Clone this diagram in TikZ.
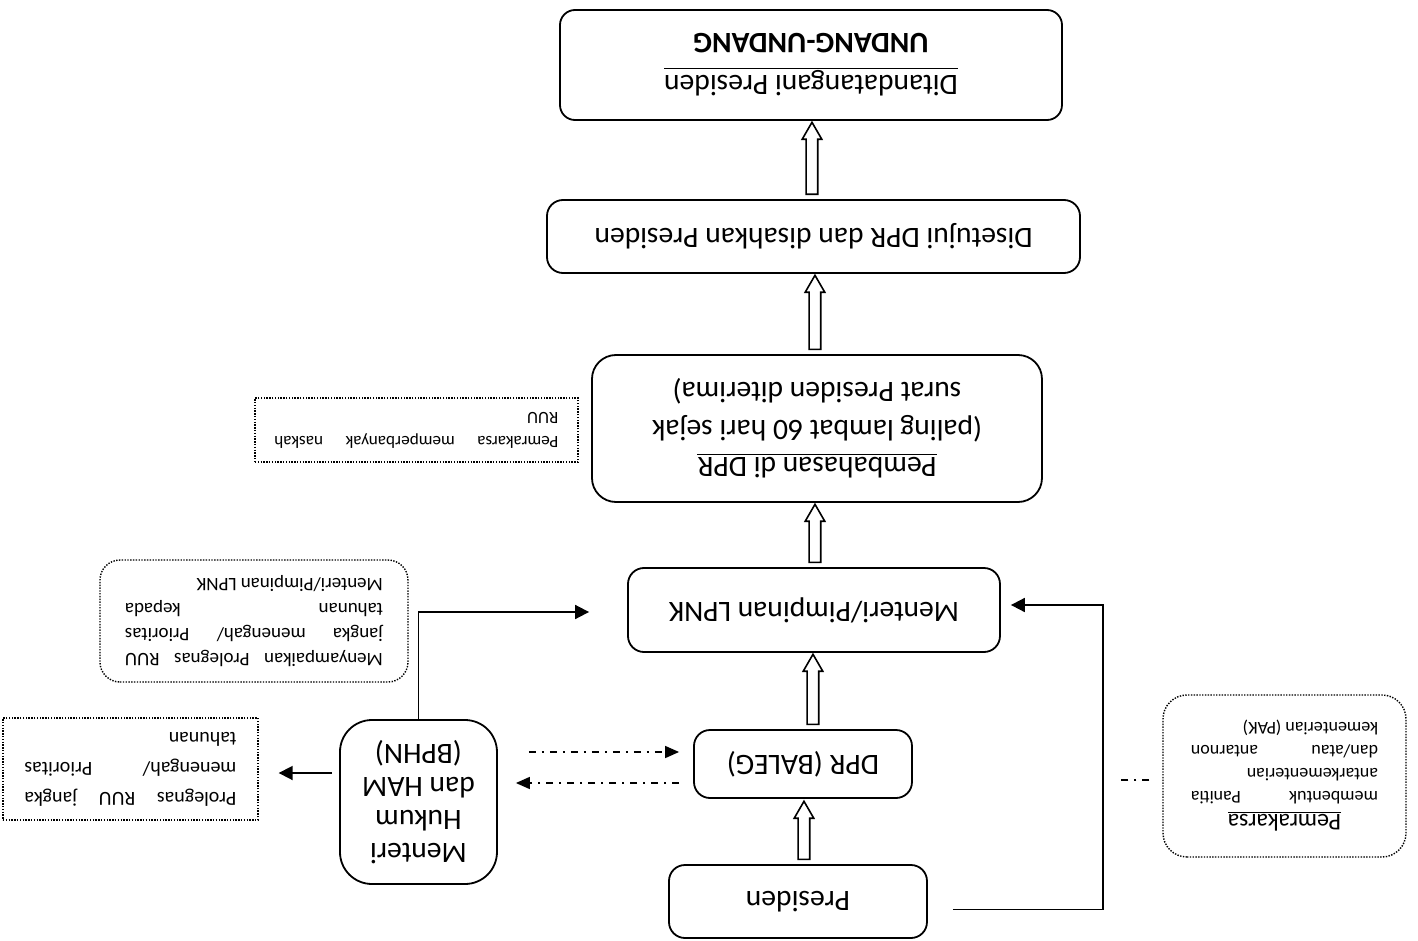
\documentclass[tikz,border=0pt]{standalone}
\usepackage{fontspec}
\setmainfont{Carlito}
\usetikzlibrary{shapes.arrows, arrows.meta, calc}
\begin{document}
\begin{tikzpicture}[x=0.5pt, y=0.5pt,
  box/.style={draw, line width=0.9pt, rounded corners=8pt, align=center, font=\fontsize{14.8}{18.75}\selectfont, inner sep=0pt},
  dotbox/.style={draw, line width=0.7pt, dash pattern=on 0.7pt off 0.7pt, inner sep=0pt},
  harrow/.style={single arrow, draw, line width=0.8pt, inner xsep=0pt, inner ysep=2.5pt, single arrow head extend=2pt, single arrow tip angle=60, rotate=-90, anchor=tail},
  conn/.style={line width=0.9pt},
  arr/.style={conn, -{Triangle[length=7pt,width=7pt]}},
  dashdot/.style={line width=0.8pt, dash pattern=on 3.5pt off 3pt on 1pt off 3pt, -{Triangle[length=7pt,width=6pt]}},
]
\begin{scope}[rotate=180, transform shape]
\useasboundingbox (0,0) rectangle (1418,941);
\fill[white] (0,0) rectangle (1418,941);

% main flow
\node[box, minimum width=251pt, minimum height=55pt, rounded corners=7.5pt, font=\fontsize{14.8}{21}\selectfont] (uu) at (607,65)
  {\underline{Ditandatangani Presiden}\\\textbf{UNDANG-UNDANG}};
\node[box, minimum width=266.5pt, minimum height=36.5pt] (dis) at (604.5,236.5) {Disetujui DPR dan disahkan Presiden};
\node[box, minimum width=225pt, minimum height=73.5pt, rounded corners=12pt] (pemb) at (601,428.5)
  {\underline{Pembahasan di DPR}\\(paling lambat 60 hari sejak\\surat Presiden diterima)};
\node[box, minimum width=186pt, minimum height=42pt] (lpnk) at (604,610) {Menteri/Pimpinan LPNK};
\node[box, minimum width=109pt, minimum height=34pt] (dpr) at (615,764) {DPR (BALEG)};
\node[box, minimum width=129pt, minimum height=36.5pt] (pres) at (620,901.5) {Presiden};
\node[box, minimum width=78.5pt, minimum height=82pt, rounded corners=16pt, font=\fontsize{14.8}{16.5}\selectfont] (mh) at (999.5,802)
  {Menteri\\Hukum\\dan HAM\\(BPHN)};

% dotted notes
\node[dotbox, minimum width=127.5pt, minimum height=51pt] (prol) at (1287.5,769)
  {\parbox{106pt}{\fontsize{10}{15}\selectfont Prolegnas RUU jangka\linebreak menengah/ Prioritas\linebreak tahunan}};
\node[dotbox, rounded corners=10pt, minimum width=154pt, minimum height=61pt] (meny) at (1164,621)
  {\parbox{129pt}{\fontsize{9.5}{12.5}\selectfont Menyampaikan Prolegnas RUU\linebreak jangka menengah/ Prioritas\linebreak tahunan kepada\linebreak Menteri/Pimpinan LPNK}};
\node[dotbox, minimum width=161.5pt, minimum height=32pt] (pemr) at (1001.5,430)
  {\parbox{142pt}{\fontsize{8.6}{12}\selectfont Pemrakarsa memperbanyak naskah\linebreak RUU}};
\node[dotbox, rounded corners=12pt, minimum width=121.5pt, minimum height=81pt] (pak) at (133.5,776)
  {\parbox{93.5pt}{\fontsize{9}{11.5}\selectfont {\centering\fontsize{12}{15}\selectfont\underline{Pemrakarsa}\par}membentuk Panitia\linebreak antarkementerian\newline dan/atau antarnon\linebreak kementerian (PAK)}};

% hollow arrows
\node[harrow, minimum height=29pt] at ($(pres.south)+(-6,-4)$) {};
\node[harrow, minimum height=35pt] at ($(dpr.south)+(-10,-4)$) {};
\node[harrow, minimum height=29pt] at ($(lpnk.south)+(-1,-4)$) {};
\node[harrow, minimum height=37pt] at ($(pemb.south)+(2,-4)$) {};
\node[harrow, minimum height=36pt] at ($(dis.south)+(1.5,-4)$) {};

% connectors
\draw[arr] ($(pres.west)+(-25,8)$) -- ++(-150,0) |- ($(lpnk.west)+(-10,-5)$);
\draw[arr] (mh.south) |- ($(lpnk.east)+(38,2)$);
\draw[arr] ($(mh.east)+(7,-29)$) -- ($(prol.west)+(-20,4)$);
\draw[dashdot] ($(mh.west)+(-31,-50)$) -- ($(dpr.east)+(14,-12)$);
\draw[dashdot] ($(dpr.east)+(14,19)$) -- ($(mh.west)+(-18,-19)$);
\draw[dashdot, -] ($(pak.east)+(13,4)$) -- ++(32,0);
\end{scope}
\end{tikzpicture}
\end{document}
